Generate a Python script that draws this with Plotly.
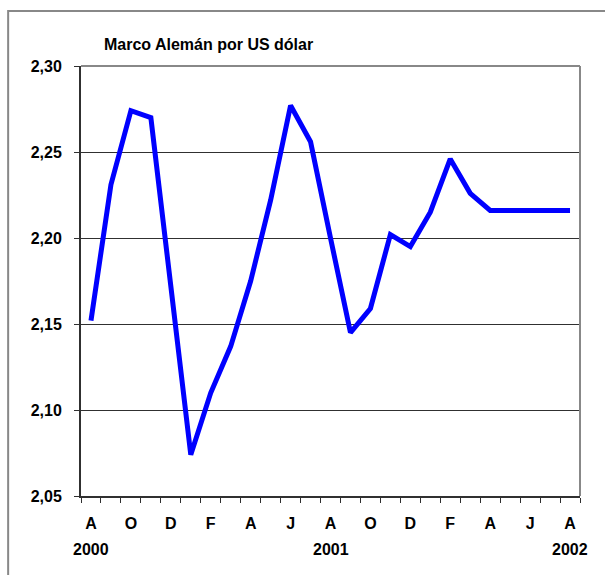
import plotly.graph_objects as go

# Monthly categories, Aug 2000 .. Aug 2002
months = ["A", "S", "O", "N", "D", "E", "F", "M", "A", "M", "J", "J",
          "A", "S", "O", "N", "D", "E", "F", "M", "A", "M", "J", "J", "A"]
dm_per_usd = [2.152, 2.231, 2.274, 2.270, 2.172, 2.074, 2.110, 2.137, 2.175,
              2.222, 2.277, 2.256, 2.200, 2.145, 2.159, 2.202, 2.195, 2.215,
              2.246, 2.226, 2.216, 2.216, 2.216, 2.216, 2.216]
tick_labels = ["A", "O", "D", "F", "A", "J", "A", "O", "D", "F", "A", "J", "A"]
year_labels = ["2000", "2001", "2002"]
year_positions = [0, 12, 24]
y_ticks = [2.05, 2.10, 2.15, 2.20, 2.25, 2.30]

FONT = "Liberation Sans Narrow, Arial Narrow, Liberation Sans, Arial, sans-serif"

x_idx = list(range(len(months)))

fig = go.Figure()
fig.add_trace(go.Scatter(
    x=x_idx, y=dm_per_usd, mode="lines",
    line=dict(color="#0000FF", width=5),
    hoverinfo="skip", showlegend=False,
))

fig.update_layout(
    width=605, height=575,
    margin=dict(l=81, r=25, t=66, b=79),
    paper_bgcolor="white", plot_bgcolor="white",
    separators=",.",
    font=dict(family=FONT, size=16, color="black"),
    title=dict(text="<b>Marco Alemán por US dólar</b>",
               xref="paper", x=0.046, xanchor="left",
               yref="container", y=1 - 44 / 575, yanchor="middle",
               font=dict(family=FONT, size=16, color="black")),
    xaxis=dict(
        range=[-0.5, len(months) - 0.5],
        tickmode="array",
        tickvals=x_idx[::2],
        ticktext=["<b>%s</b>" % t for t in tick_labels],
        ticks="", showgrid=False, zeroline=False,
        showline=True, linecolor="#303030", linewidth=2,
        ticklabelstandoff=12,
        minor=dict(tickmode="array",
                   tickvals=[i - 0.5 for i in range(len(months) + 1)],
                   ticks="outside", ticklen=5, tickcolor="#303030",
                   tickwidth=1, showgrid=False),
    ),
    yaxis=dict(
        range=[2.05, 2.30],
        tickmode="array",
        tickvals=y_ticks,
        ticktext=["<b>%s</b>" % ("%.2f" % v).replace(".", ",") for v in y_ticks],
        ticks="outside", ticklen=5, tickcolor="#303030", tickwidth=1,
        showgrid=True, gridcolor="#303030", gridwidth=1,
        zeroline=False,
        showline=True, linecolor="#303030", linewidth=2,
        ticklabelstandoff=9,
    ),
)

# plot-area top and right borders (gray)
fig.add_shape(type="line", xref="paper", yref="paper", x0=0, x1=1, y0=1, y1=1,
              line=dict(color="#888888", width=2))
fig.add_shape(type="line", xref="paper", yref="paper", x0=1, x1=1, y0=0, y1=1,
              line=dict(color="#888888", width=2))
# outer chart frame
fig.add_shape(type="rect", xref="paper", yref="paper",
              x0=-0.146, x1=1.2, y0=-0.3, y1=1.128,
              line=dict(color="#888888", width=2), layer="below")

for yl, yp in zip(year_labels, year_positions):
    fig.add_annotation(x=yp, y=-(549 - 496) / 430, xref="x", yref="paper",
                       text="<b>%s</b>" % yl, showarrow=False,
                       font=dict(family=FONT, size=16, color="black"),
                       yanchor="middle")

fig.write_html("out.html",
               config={"displayModeBar": False},
               post_script="document.body.style.margin='0';document.body.style.overflow='hidden';")
